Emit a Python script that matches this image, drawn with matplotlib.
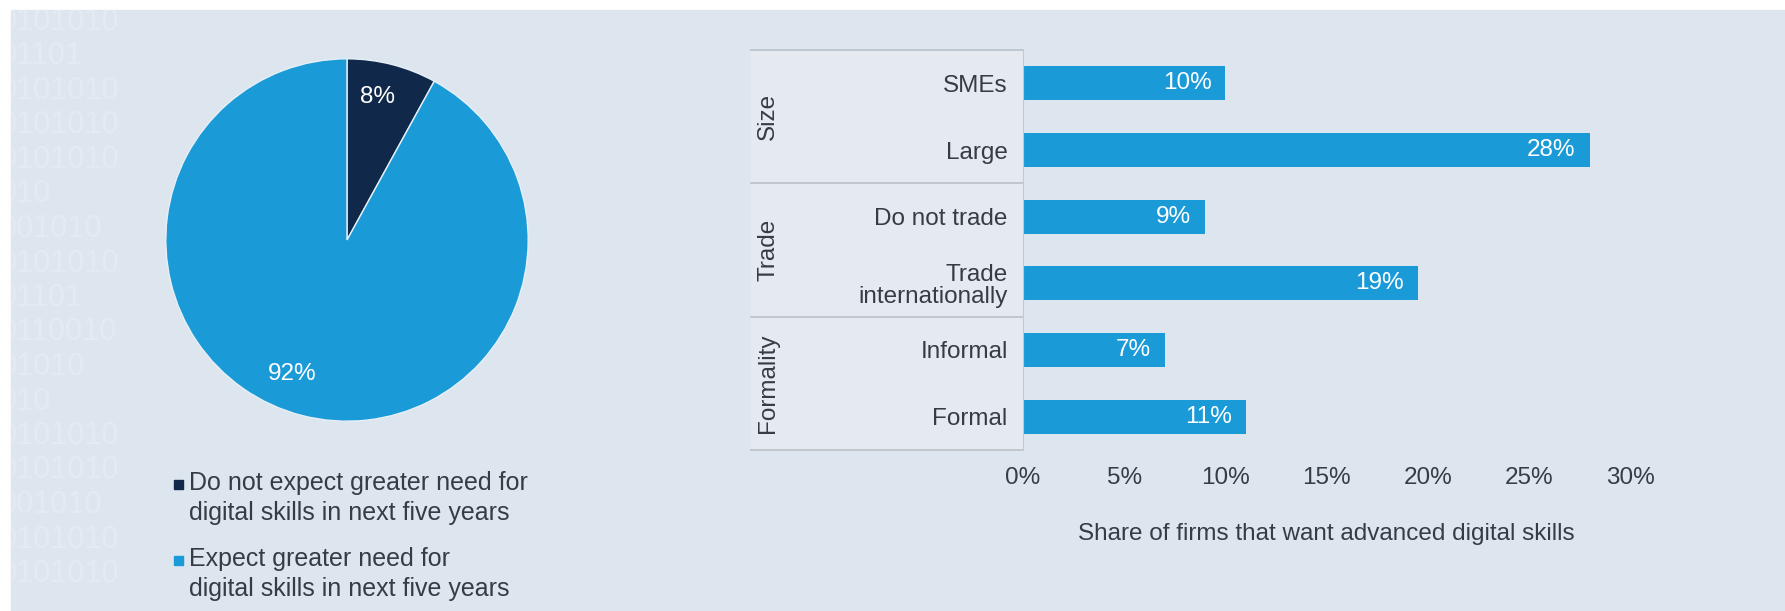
import matplotlib
matplotlib.use('Agg')
import matplotlib.pyplot as plt
from matplotlib.patches import Rectangle
import matplotlib.transforms as mtransforms

# pie data
pie_labels = ['Do not expect greater need for\ndigital skills in next five years',
              'Expect greater need for\ndigital skills in next five years']
pie_values = [8, 92]
pie_colors = ['#10294a', '#1a9bd7']

# bar data
groups = ['Size', 'Trade', 'Formality']
categories = ['SMEs', 'Large', 'Do not trade', 'Trade\ninternationally', 'Informal', 'Formal']
shares = [10, 28, 9, 19.5, 7, 11]
share_labels = ['10%', '28%', '9%', '19%', '7%', '11%']
x_ticks = [0, 5, 10, 15, 20, 25, 30]

# faint binary pattern in the background
binary_rows = ['0101010', '01101', '0101010', '0101010', '0101010', '010', '001010',
               '0101010', '01101', '0110010', '01010', '010', '0101010', '0101010',
               '001010', '0101010', '0101010']

W, H = 1785, 611
bg = '#dde6ef'
txt = '#363c44'
bar_col = '#1a9bd7'

plt.rcParams['font.family'] = ['Liberation Sans', 'DejaVu Sans']
plt.rcParams['font.size'] = 17.5

fig = plt.figure(figsize=(W / 100, H / 100), dpi=100, facecolor='white')
fig.patches.append(Rectangle((11 / W, 0), 1, 1 - 10 / H, transform=fig.transFigure,
                             color=bg, zorder=-10))

def fx(px):
    return px / W

def fy(py):
    return 1 - py / H

for i, row in enumerate(binary_rows):
    t = fig.text(fx(0), fy(22 + i * 34.5), row, ha='left', va='center', fontsize=22,
                 color='white', alpha=0.2, zorder=-5)
    t.set_clip_box(mtransforms.Bbox([[12, 0], [W, H - 10]]))

# pie
r = 183
cx, cy = 347, 240
ax1 = fig.add_axes([fx(cx - r), fy(cy + r), 2 * r / W, 2 * r / H])
wedges, texts, autotexts = ax1.pie(pie_values, colors=pie_colors, startangle=90,
                                   counterclock=False, autopct='%d%%', pctdistance=0.8,
                                   wedgeprops=dict(edgecolor='#e6f0f8', linewidth=1))
for t in autotexts:
    t.set_color('white')
autotexts[0].set_position((0.17, 0.79))
autotexts[1].set_position((-0.3, -0.74))
ax1.set_xlim(-1.01, 1.01)
ax1.set_ylim(-1.01, 1.01)
ax1.set_aspect('equal')

# legend drawn by hand so the square sits on the first line
ly = [484, 560]
for i, lab in enumerate(pie_labels):
    fig.patches.append(Rectangle((fx(174), fy(ly[i] + 5)), 9 / W, 9 / H,
                                 transform=fig.transFigure, color=pie_colors[i]))
    fig.text(fx(189), fy(ly[i] - 13), lab, ha='left', va='top', color=txt,
             fontsize=18, linespacing=1.3)

# bars
ax2 = fig.add_axes([fx(1023), fy(450), fx(1630) - fx(1023), 400 / H])
ax2.set_facecolor('none')
y = list(range(len(categories)))
ax2.barh(y, shares, height=0.51, color=bar_col)
for yi, v, lab in zip(y, shares, share_labels):
    ax2.annotate(lab, (v, yi), xytext=(-10, 0), textcoords='offset points',
                 ha='right', va='center', color='white')
ax2.set_ylim(5.5, -0.5)
ax2.set_xlim(0, 30)
ax2.set_yticks(y)
ax2.set_yticklabels(categories, color=txt, linespacing=1.0)
ax2.set_xticks(x_ticks)
ax2.set_xticklabels([f'{t}%' for t in x_ticks], color=txt)
ax2.tick_params(axis='y', length=0, pad=11)
ax2.tick_params(axis='x', length=0, pad=12)
ax2.set_xlabel('Share of firms that want advanced digital skills', color=txt, labelpad=25)
for s in ['top', 'right', 'bottom']:
    ax2.spines[s].set_visible(False)
ax2.spines['left'].set_color('#c4cad1')

# group panel on the left of the bars
trans = mtransforms.blended_transform_factory(ax2.transAxes, ax2.transData)
left = (751 - 1023) / (1630 - 1023)
ax2.add_patch(Rectangle((left, -0.5), -left, 6, transform=trans, color='#e4eaf0',
                        zorder=0, clip_on=False))
for yl in [-0.5, 1.5, 3.5, 5.5]:
    ax2.plot([left, 0], [yl, yl], color='#b9c0c8', lw=1.2, transform=trans, clip_on=False)
for i, g in enumerate(groups):
    ax2.text((768 - 1023) / (1630 - 1023), 2 * i + 0.5, g, rotation=90, ha='center',
             va='center', color=txt, transform=trans)

fig.savefig('out.png', dpi=100, facecolor=fig.get_facecolor())
